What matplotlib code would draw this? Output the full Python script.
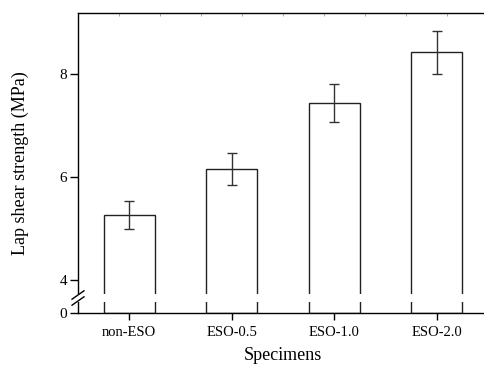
import numpy as np
import matplotlib
matplotlib.use("Agg")
import matplotlib.pyplot as plt
from matplotlib.patches import Rectangle
from matplotlib.lines import Line2D
from matplotlib.ticker import FixedLocator

categories = ["non-ESO", "ESO-0.5", "ESO-1.0", "ESO-2.0"]
strength = [5.26, 6.16, 7.43, 8.42]
errors = [0.27, 0.31, 0.37, 0.42]
yticks = [0, 4, 6, 8]
ytick_labels = ["0", "4", "6", "8"]

plt.rcParams['font.family'] = ['Liberation Serif', 'DejaVu Serif']

# broken-axis scale: below 4 compressed
K = 0.1602
def fwd(v):
    v = np.asarray(v, dtype=float)
    return np.where(v >= 4, v, 4 - (4 - v) * K)
def inv(f):
    f = np.asarray(f, dtype=float)
    return np.where(f >= 4, f, 4 - (4 - f) / K)

fig = plt.figure(figsize=(4.84, 3.66), dpi=100)
ax = fig.add_axes([78/484, 53/366, 410/484, 300/366])
ax.set_yscale('function', functions=(fwd, inv))

x = np.arange(1, len(categories) + 1)
ax.bar(x, strength, width=0.5, color='white', edgecolor='#222222', linewidth=1.0, zorder=1)
ax.errorbar(x, strength, yerr=errors, fmt='none', ecolor='#333333', elinewidth=1.0,
            capsize=3.5, capthick=1.0, zorder=2)

ax.set_xlim(0.5, 4.5)
ax.set_ylim(0, 9.18)
ax.set_xticks(x)
ax.set_xticklabels(categories, fontsize=10.5)
ax.set_yticks(yticks)
ax.set_yticklabels(ytick_labels, fontsize=11)
ax.xaxis.set_minor_locator(FixedLocator(np.arange(0.9, 4.4, 0.4)))
ax.yaxis.set_minor_locator(FixedLocator([]))
ax.tick_params(axis='x', which='major', direction='out', length=5, width=1, pad=4)
ax.tick_params(axis='x', which='minor', bottom=False, top=True, direction='in',
               length=2.5, width=0.7, color='#aaaaaa')
ax.tick_params(axis='y', which='major', direction='out', length=6, width=1, pad=2)

for s in ['left', 'bottom', 'top']:
    ax.spines[s].set_linewidth(1.0)
ax.spines['right'].set_visible(False)

ax.set_xlabel("Specimens", fontsize=13, labelpad=6)
ax.set_ylabel("Lap shear strength (MPa)", fontsize=13, labelpad=22)

# break band and slashes
ax.add_patch(Rectangle((-0.02, 0.037), 1.04, 0.026, transform=ax.transAxes,
                       facecolor='white', edgecolor='none', clip_on=False, zorder=3))
for y0 in (0.026, 0.046):
    ax.add_line(Line2D([-0.0146, 0.0146], [y0, y0 + 0.028], transform=ax.transAxes,
                       color='black', linewidth=1.0, clip_on=False, zorder=4))

fig.savefig("out.png", dpi=100)
